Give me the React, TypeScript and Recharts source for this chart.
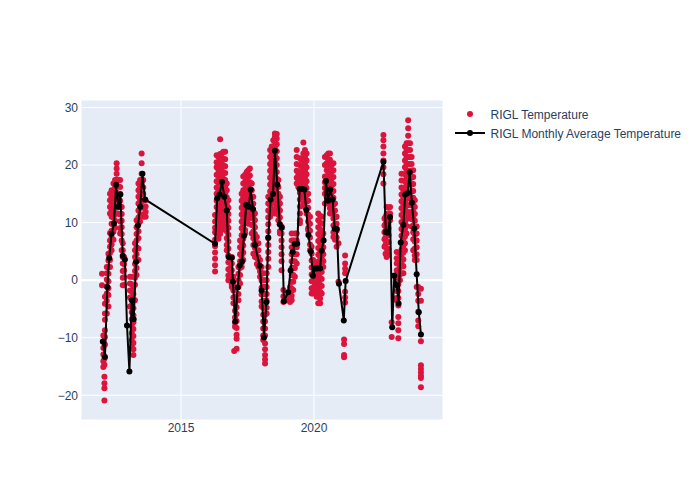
import React from "react";
import {
  CartesianGrid,
  Legend,
  ReferenceLine,
  Scatter,
  ScatterChart,
  XAxis,
  YAxis,
} from "recharts";

// each row: year, then the temperatures read at about that time
const temps2012 = [
  [2012.03, 1.1, -0.9],
  [2012.08, -9.6, -10.7, -11.8, -12.9, -14.1, -15.1],
  [2012.12, -13.6, -14.7, -16.8, -17.9, -18.8, -20.9],
  [2012.14, -2.9, -4.1, -5.8, -6.9, -8.7, -9.9, -11.2],
  [2012.21, 2.3, 1.2, 0.1, -1.1, -2.3, -3.6, -5.8],
  [2012.27, 4.6, 3.4, 2.2, 1.1, -0.2, -1.4, -2.6, -4.6],
  [2012.33, 15, 13.9, 12.7, 11.6, 8.2, 6.9, 5.8, 4.7, 3.5, 2.3],
  [2012.39, 15.6, 14.4, 13.2, 12.1, 11, 9.8, 8.6, 7.5, 6.2, 5.2],
  [2012.46, 16.8, 15.5, 14.4, 13.1, 12, 10.9, 9.6, 8.4, 7],
  [2012.52, 17.4, 16.1, 15, 13.8, 12.6, 11.5, 10.3, 9.1],
  [2012.58, 20.3, 19.4, 18.5, 17.5, 16.4, 15.2, 14, 12.8, 11.6],
  [2012.64, 17.4, 16.3, 15, 13.9, 12.7, 11.6],
  [2012.71, 17.4, 16.2, 15, 13.8, 12.7, 11.4, 10.2, 9, 8.1],
  [2012.77, 12.7, 11.5, 10.3, 9.2, 8, 6.9, 5.2],
  [2012.81, 6.4, 5.2, 4, 2.9, 1.6, 0.4, -0.9],
  [2012.86, 4, 2.8, 1.7, 0.5, -0.9],
];

const temps2013 = [
  [2013.08, 0.6, -0.6, -1.8, -3, -4.6],
  [2013.15, 0.6, -0.7, -2, -3.2, -4.4, -5.6, -6.8, -8, -9.2, -10.4, -11.6],
  [2013.21, -1.2, -2.4, -3.6, -4.9, -6.1, -7.3, -8.5, -9.7, -10.9, -12, -13],
  [2013.27, 6.4, 5.2, 4, 2.8, 1.6, 0.4, -0.8, -3.5],
  [2013.33, 10.4, 9.2, 8, 6.9, 5.7, 4.5, 3.3, 2.1, 0.9],
  [2013.4, 16.8, 15.6, 14.5, 13.3, 12.1, 10.9, 9.7, 8.5, 7.3, 5.5, 3.5],
  [2013.46, 17.4, 16.2, 15, 13.8, 12.6, 11.4, 10.2],
  [2013.52, 22, 20.3, 18.5, 17.3, 16.1, 14.9, 13.7, 12.7],
  [2013.58, 17.4, 16.1, 15, 13.8, 12.6, 11.4, 11],
  [2013.67, 13.9, 12.8, 11.9, 11],
];

const temps2016 = [
  [2016.28, 11.3, 10.2, 9.1, 8.3, 7, 5.9, 4.8, 3.7, 2.6, 1.5],
  [2016.34, 21.7, 20.5, 19.6, 18.3, 17.2, 16.1, 15, 13.8, 12.7, 11.4, 10.3, 9.2, 8.1],
  [2016.41, 21.4, 20.2, 19.1, 18, 16.9, 15.6, 14.5, 13.4, 12.2, 11.1, 10, 8.8, 7.2],
  [2016.47, 24.5, 21.9, 20.8, 19.5, 18.4, 17.3, 16, 14.9, 13.7, 12.6, 11.5, 10.2, 9.3, 8],
  [2016.53, 22, 20.6, 19.4, 18.3, 17.1, 15.9, 14.8, 13.5, 12.4, 11.2, 10, 8.7],
  [2016.59, 22.3, 21.1, 19.9, 18.7, 17.6, 16.3, 15.2, 14, 12.8, 11.7, 10.4, 9.3],
  [2016.66, 22.3, 21, 19.8, 18.6, 17.4, 16.2, 15, 13.9, 12.6, 11.5, 10.2],
  [2016.72, 16.8, 15.6, 14.4, 13.2, 12, 10.8, 9.6, 8.5, 7.3, 6.1, 5.2],
  [2016.78, 13.9, 12.6, 11.5, 10.3, 9.1, 7.9, 6.7, 5.5, 4.3, 3.1, 1.9, 0.8, 0],
  [2016.84, 4, 3, 2, 1, 0],
  [2016.91, 4, 2.9, 1.7, 0.5, -0.7, -1.2],
  [2016.97, 0.6, -0.6, -1.8, -3, -4],
];

const temps2017 = [
  [2017.0, -12.3],
  [2017.03, -2.9, -4.1, -5.3, -6.5, -7.4, -8.1],
  [2017.09, -3.5, -4.7, -5.9, -7.1, -8.3, -9.5, -10.2, -11.9],
  [2017.16, 2.3, 1.1, 0, -1.2, -2.4, -3.5],
  [2017.22, 6.9, 5.7, 4.5, 3.3, 2.1, 0.9, -0.6],
  [2017.28, 15, 13.8, 12.6, 11.4, 10.2, 9, 7.8, 6.6, 5.4, 4.2, 3, 2.3],
  [2017.34, 18, 16.8, 15.6, 14.4, 13.2, 12, 10.8, 9.6, 8.4, 7.2, 6, 4.8, 3.5],
  [2017.41, 18.3, 17.1, 15.9, 14.7, 13.5, 12.3, 11.1, 9.9, 8.7, 8.1],
  [2017.47, 18.8, 17.6, 16.4, 15.2, 14, 12.8, 11.6, 10.4],
  [2017.53, 19.1, 17.9, 16.7, 15.5, 14.3, 13.1, 11.9, 10.7, 9.8],
  [2017.59, 19.4, 18.2, 17, 15.8, 14.6, 13.4, 12.2, 11.6],
  [2017.66, 16.8, 15.6, 14.4, 13.2, 12, 10.8, 9.6, 8.1],
  [2017.72, 14.5, 13.3, 12.1, 10.9, 9.7, 8.5, 7.3, 6.1, 4.6],
  [2017.78, 11.6, 10.4, 9.2, 8, 6.8, 5.6, 4],
  [2017.85, 7.5, 6.3, 5, 3.8, 2.8],
  [2017.91, 6.4, 5.2, 4, 2.8, 2.3],
  [2017.97, 3.5, 2.4, 1.5, 0.6],
];

const temps2018 = [
  [2018.03, 2.3, 1.1, -0.1, -1.3, -2.5, -3.7, -4.6],
  [2018.09, 1.2, 0, -1.2, -2.4, -3.6, -4.8, -6, -7.2, -8.4, -9.6, -10.4],
  [2018.16, 0, -1.2, -2.4, -3.6, -4.8, -6, -7.2, -8.4, -9.6, -11, -12, -13, -13.8, -14.5],
  [2018.22, 1.2, 0, -1.2, -2.4, -3.6, -4.8, -5.8],
  [2018.28, 14.5, 13.3, 12.1, 10.9, 9.7, 8.5, 7.3, 6.1, 4.9, 3.7, 2.3],
  [2018.35, 22.6, 21.4, 20.2, 19, 17.8, 16.6, 15.4, 14.2, 13, 11.8, 11],
  [2018.41, 23.2, 22, 20.8, 19.6, 18.4, 17.2, 16, 14.8, 13.6, 12.4, 11.6],
  [2018.47, 24.3, 23.1, 21.9, 20.7, 19.5, 18.3, 17.1, 15.9, 14.7, 13.5, 12.2],
  [2018.53, 25.5, 24.9, 24, 23, 21.8, 20.6, 19.4, 18.2, 17, 15.8, 14.6, 13.4, 12.2, 11.6],
  [2018.6, 25.4, 24.6, 23.6, 22.4, 21.2, 20, 18.8, 17.6, 16.4, 15.2, 14, 12.8, 11.6],
  [2018.66, 17.4, 16.2, 15, 13.8, 12.6, 11.4, 10.4],
  [2018.72, 14.5, 13.3, 12.1, 10.9, 9.7, 8.5, 8.1],
  [2018.78, 9.3, 8.1, 6.9, 5.7, 4.5, 3.3, 1.7],
  [2018.85, -1.7, -2.8, -3.8],
  [2018.97, -3, -3.5],
];

const temps2019 = [
  [2019.1, -1.2, -2.4, -3.8],
  [2019.16, 8.1, 6.9, 5.7, 4.5, 3.3, 2.1, 0.9, -0.3, -1.5, -2.7, -3.5],
  [2019.22, 6.9, 5.7, 4.5, 3.3, 2.1, 0.9, -0.3, -1.7],
  [2019.28, 8.1, 6.9, 5.7, 4.5, 3.3, 2.1, 0.6],
  [2019.35, 22.6, 21.4, 20.2, 19, 17.8, 16.8, 8.1, 6.9, 5.7, 4.5, 2.9],
  [2019.41, 18.5, 17.3, 16.2],
  [2019.47, 21.2, 20, 18.8, 17.6, 16.4, 15.2, 14, 12.8, 11.6, 10.4, 9.9],
  [2019.53, 20.9, 19.7, 18.5, 17.3, 16.1, 14.9, 14.5],
  [2019.6, 23.9, 22, 20.8, 19.6, 18.4, 17.2, 16, 14.8, 13.3],
  [2019.66, 22.6, 21.4, 20.2, 19, 17.8, 16.6, 15.4, 14.2, 12.7],
  [2019.72, 22, 20.8, 19.6, 18.4, 17.2, 16, 14.8, 13.6, 12.4, 11.6],
  [2019.78, 15, 13.8, 12.6, 11.4, 10.2, 9, 8.7],
  [2019.85, 11, 9.8, 8.6, 7.4, 6.2, 5.2],
  [2019.91, 5.8, 4.6, 3.4, 2.2, 1, -0.2, -1.4, -2.3],
  [2019.97, 3.5, 2.3, 1.1, -0.1, -1.3, -2.3],
];

const temps2020 = [
  [2020.04, 2.9, 1.7, 0.5, -0.7, -1.7],
  [2020.1, 2.3, 1.1, -0.1, -1.3, -2.5, -2.9],
  [2020.16, 11.6, 10.4, 9.2, 8, 6.8, 5.6, 4.4, 3.2, 2, 0.8, -0.4, -1.6, -2.8, -4],
  [2020.23, 11.2, 10, 8.8, 7.6, 6.4, 5.2, 4, 2.8, 1.6, 0.4, -0.8, -2, -3.2, -4],
  [2020.29, 11, 9.8, 8.6, 7.4, 6.2, 5, 3.8, 2.6, 1.4, 0.2, -1, -2.3],
  [2020.35, 8.1, 6.9, 5.7, 4.5, 3.3, 2.3],
  [2020.41, 21.4, 20, 18, 17, 16, 15, 13.3],
  [2020.48, 21.7, 20.3, 19.1, 18, 16.8, 15.6, 14.4, 13.3],
  [2020.54, 22, 20.8, 19.6, 18.4, 17.2, 16, 14.8, 13.9],
  [2020.6, 22, 20.9, 19.7, 18.5, 17.3, 16.1, 14.9, 13.7, 12.5, 11.6],
  [2020.66, 20, 18.8, 17.6, 16.4, 15.2, 14, 12.8, 11.6],
  [2020.73, 20.3, 19.1, 17.9, 16.7, 15.5, 14.3, 13.1, 11.9, 10.7, 9.5, 8.3, 7.5],
  [2020.79, 13.3, 12.1, 10.9, 9.7, 8.5, 7],
  [2020.85, 11, 9.8, 8.6, 7.4, 5.8],
  [2020.92, 6.4, -0.3],
  [2021.13, -10.3, -11.1, -13, -13.4],
  [2021.17, 4.3, 2.9, 2, 1.2, -2, -3, -3.9],
];

const temps2022 = [
  [2022.61, 25.2, 24.3, 23.2, 22, 20.8, 19.6, 18.4, 16.8],
  [2022.65, 10.7, 9.5, 8.3, 7.1, 5.8],
  [2022.69, 11, 9.8, 8.6, 7.4, 6.2, 4.6],
  [2022.73, 12.7, 11.5, 10.3, 9.1, 7.9, 6.7, 5.5, 4],
  [2022.8, 12.6, 11.4, 10.2, 9, 7.8, 6.6, 5.4, 4.4],
  [2022.86, 12.7, 11.6, 10.4],
  [2022.92, -7.3, -9.9],
];

const temps2023 = [
  [2023.05, 0.6],
  [2023.11, 4.9, 3.8, 2.9, 1.7, 0.5, -0.7, -1.9, -3.1, -3.5],
  [2023.17, 2.9, 1.7, 0.5, -0.7, -1.9, -3.1, -4.4, -6.4, -7.5, -8.7, -10.1],
  [2023.23, 4.6, 3.4, 2.2, 1, 0],
  [2023.29, 18.5, 17.3, 16.1, 14.9, 13.7, 12.5, 11.3, 10.1, 8.9, 7.7, 6.5, 5.3, 4.1, 2.9, 1.2],
  [2023.36, 15.6, 14.4, 13.2, 12, 10.8, 9.6, 8.4, 7.2, 6, 4.8, 3.6, 2.4, 1.2],
  [2023.42, 23.2, 22, 20.8, 19.6, 18.4, 17.2, 16, 14.8, 13.6, 12.4, 11.2, 10, 8.8, 7.6, 6.4, 5.2],
  [2023.48, 23.8, 22.6, 21.4, 20.2, 19, 17.8, 16.6, 15.4, 14.2, 13, 11.8, 10.6, 9.4, 8.1],
  [2023.54, 27.8, 26.4, 25.1, 23.8, 22.6, 21.4, 20.2, 19, 17.8, 16.6, 15.4, 14.2, 13, 11.8, 11],
  [2023.61, 23.8, 22.6, 21.4, 20.2, 19, 17.8, 16.6, 15.4, 14.2, 13, 11.8, 11],
  [2023.67, 21.4, 20.2, 19, 17.8, 16.6, 15.4, 14.2, 13, 11.8, 10.6, 9.3],
  [2023.73, 19.1, 17.9, 16.7, 15.5, 14.3, 13.1, 11.9, 10.7, 9.5, 8.3, 7.1, 5.2],
  [2023.79, 13.9, 12.7, 11.5, 10.3, 9.1, 7.9, 6.7, 5.5, 4.3, 3.5],
  [2023.86, 9.3, 8.1, 6.9, 5.7, 4.5, 3.5, -1.2],
  [2023.92, -1.2, -2.4, -3.6, -5.5, -7, -8],
  [2024.02, -1.5, -3.6, -10.6, -14.8, -15.4, -16, -16.6, -17, -18.6],
];

const monthlyYears = [
  2012.06, 2012.14, 2012.23, 2012.3, 2012.39, 2012.48, 2012.56, 2012.64, 2012.72, 2012.81,
  2012.89, 2012.97, 2013.06, 2013.15, 2013.22, 2013.31, 2013.38, 2013.47, 2013.55, 2013.65,
  2016.28, 2016.36, 2016.45, 2016.54, 2016.63, 2016.72, 2016.79, 2016.91, 2016.95, 2017.04,
  2017.13, 2017.21, 2017.29, 2017.37, 2017.45, 2017.55, 2017.62, 2017.71, 2017.78, 2017.96,
  2018.03, 2018.12, 2018.21, 2018.28, 2018.37, 2018.46, 2018.53, 2018.62, 2018.71, 2018.79,
  2018.87, 2019.03, 2019.12, 2019.2, 2019.27, 2019.37, 2019.46, 2019.55, 2019.64, 2019.71,
  2019.79, 2019.88, 2019.96, 2020.04, 2020.12, 2020.23, 2020.29, 2020.36, 2020.45, 2020.53,
  2020.61, 2020.7, 2020.78, 2020.86, 2020.94, 2021.12, 2021.19, 2022.61, 2022.7, 2022.78,
  2022.86, 2022.94, 2023.02, 2023.11, 2023.18, 2023.26, 2023.36, 2023.43, 2023.52, 2023.6,
  2023.68, 2023.77, 2023.86, 2023.94, 2024.02,
];

const monthlyTemps = [
  -10.66, -13.34, -1.17, 3.83, 8.05, 9.86, 16.57, 12.75, 14.9, 4.23,
  3.6, -7.88, -15.88, -3.48, -6.78, 3.18, 9.51, 12.75, 18.49, 14.03,
  6.31, 14.21, 14.9, 17.04, 14.49, 12.12, 4, 3.88, -0.23, -7.18,
  -1.27, 2.56, 3.25, 7.7, 13.04, 12.75, 15.77, 12.35, 6.09, 2.49,
  -1.79, -9.97, -3.83, 7.43, 14.03, 14.96, 22.49, 16.57, 9.69, 9.1,
  -3.65, -2.09, 1.69, 4.87, 6.26, 6.31, 15.83, 15.83, 15.77, 12.17,
  7.83, 5.04, 0.75, 2.03, 2.03, 2.03, 5.1, 6.9, 17.22, 13.79,
  15.77, 14.03, 8.92, 8.87, -0.64, -7.01, -0.17, 20.57, 8.35, 8.23,
  10.96, -8.17, 0.82, -0.87, -4.05, 6.56, 9.57, 14.9, 15.08, 18.73,
  13.44, 8.99, 1.04, -5.57, -9.44,
];

const xTicks = [2015, 2020];
const yTicks = [-20, -10, 0, 10, 20, 30];

const tempPoints = [
  ...temps2012,
  ...temps2013,
  ...temps2016,
  ...temps2017,
  ...temps2018,
  ...temps2019,
  ...temps2020,
  ...temps2022,
  ...temps2023,
].flatMap(([year, ...values]) => values.map((temp) => ({ year, temp })));

const monthlyPoints = monthlyYears.map((year, i) => ({ year, temp: monthlyTemps[i] }));

const FONT = '"Liberation Sans", Arial, sans-serif';
const INK = "#2a3f5f";
const RED = "#dc143c";

function Dot(props: any) {
  return <circle cx={props.cx} cy={props.cy} r={3} fill={props.fill} />;
}

function ChartLegend() {
  const label = { fill: INK, fontSize: 12, fontFamily: FONT };
  return (
    <svg width={245} height={50} style={{ display: "block" }}>
      <circle cx={27} cy={9} r={3} fill={RED} />
      <text x={47.5} y={13.5} {...label}>RIGL Temperature</text>
      <line x1={12} x2={42} y1={28} y2={28} stroke="#000" strokeWidth={2} />
      <circle cx={27} cy={28} r={3} fill="#000" />
      <text x={47.5} y={32.5} {...label}>RIGL Monthly Average Temperature</text>
    </svg>
  );
}

export default function App() {
  return (
    <div style={{ position: "absolute", left: 0, top: 0, width: 700, height: 500, background: "#fff" }}>
      <ScatterChart
        width={700}
        height={500}
        margin={{ top: 100, right: 12, bottom: 50, left: 41 }}
      >
        <CartesianGrid fill="#e5ecf6" stroke="#fff" strokeWidth={1} />
        <ReferenceLine y={0} stroke="#fff" strokeWidth={2} />
        <XAxis
          type="number"
          dataKey="year"
          domain={[2011.24, 2024.85]}
          ticks={xTicks}
          height={30}
          axisLine={false}
          tickLine={false}
          tickSize={0}
          tickMargin={3}
          tick={{ fill: INK, fontSize: 12, fontFamily: FONT }}
        />
        <YAxis
          type="number"
          dataKey="temp"
          domain={[-24.3, 31.3]}
          ticks={yTicks}
          width={40}
          axisLine={false}
          tickLine={false}
          tickSize={0}
          tickMargin={3}
          tick={{ fill: INK, fontSize: 12, fontFamily: FONT }}
          tickFormatter={(v: number) => String(v).replace("-", "\u2212")}
        />
        <Legend
          layout="vertical"
          align="right"
          verticalAlign="top"
          width={245}
          wrapperStyle={{ top: 105 }}
          content={<ChartLegend />}
        />
        <Scatter
          name="RIGL Temperature"
          data={tempPoints}
          fill={RED}
          shape={<Dot />}
          isAnimationActive={false}
        />
        <Scatter
          name="RIGL Monthly Average Temperature"
          data={monthlyPoints}
          fill="#000"
          shape={<Dot />}
          line={{ stroke: "#000", strokeWidth: 2 }}
          isAnimationActive={false}
        />
      </ScatterChart>
    </div>
  );
}
